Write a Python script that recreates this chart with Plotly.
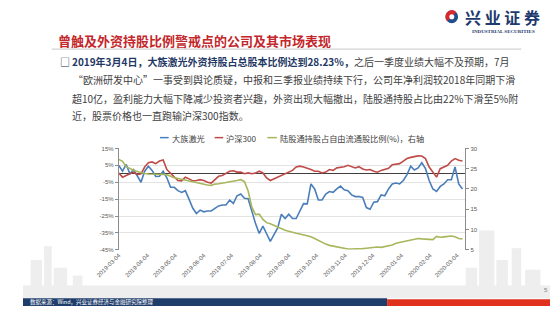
import math
import pandas as pd
import plotly.graph_objects as go

W, H = 550, 309

# ---- data -------------------------------------------------------------
start_date = "2019-03-04"
n_points = 94
step = "4D"

names = ["大族激光", "沪深300", "陆股通持股占自由流通股比例(%)，右轴"]

# 大族激光 cumulative return (%)
dazu = [5, 1.5, 5.5, 0, 2.4, -1.5, -5, 1.5, 4.4, 2.0,
        -1.6, -1.5, 1.5, -2.4, -8, -8, -10, -11, -10, -15,
        -20.3, -23.5, -21.5, -22.5, -22, -22, -20.5, -19, -18.5, -18.5,
        -15.6, -17.5, -13, -12, -14.5, -14.8, -22, -29.5, -35.3, -31,
        -35.5, -40, -36, -32, -24, -26.5, -24, -26.5, -26.5, -22,
        -17.7, -17.8, -6, -9, -15.5, -15.5, -12, -10.5, -11, -9,
        -7.3, -9.5, -10, -12.5, -13.5, -13.5, -14, -20, -21, -16.8,
        -16.5, -12.5, -13, -9, -6, -5.5, -6, -4, -0.5, 4.5,
        2.2, 3.5, 6.5, 3, -4, -9, -10.5, -7.5, -6, -3.5,
        -3.5, 4, -6, -9]

# 沪深300 cumulative return (%)
hs300 = [0.5, -2.0, -1.0, 0, 1.0, -0.5, 0, 4.0, 6.5, 7.0,
         6.0, 7.5, 8.2, 2.5, 0.5, -2.0, -4.0, -4.2, -2.0, -3.0,
         -4.3, -4.0, -3.5, -4.0, -5.0, -5.5, -3.5, -1.5, -1.0, 0.5,
         1.5, 1.8, 1.0, 1.0, 0, 0.5, 0, 0.5, 1.5, 0.5,
         -2.5, -4.0, -3.0, -2.0, -1.0, 0, 0.9, 2.0, 4.0, 4.5,
         4.0, 3.4, 2.5, 1.5, 1.5, 0.5, 1.0, 2.5, 2.0, 3.5,
         3.8, 4.2, 5.0, 4.0, 3.4, 4.2, 2.8, 2.2, 2.5, 1.5,
         0.9, 2.0, 2.4, 3.2, 5.3, 5.5, 6.0, 7.5, 9.0, 9.7,
         10.2, 10.6, 10.5, 9.0, 4.0, 1.0, -2.0, 3.0, 4.0, 5.0,
         7.5, 9.0, 8.0, 7.5]

# 陆股通 holding as % of free float (right axis)
hk_share = [27.3, 26.8, 25.5, 25.0, 24.6, 24.3, 24.0, 23.8, 23.7, 23.7,
            23.7, 23.7, 23.6, 23.5, 23.1, 22.8, 22.6, 22.4, 22.1, 22.0,
            21.8, 21.5, 21.3, 21.1, 21.0, 20.9, 21.2, 21.3, 21.4, 21.6,
            21.8, 21.9, 22.1, 22.3, 21.8, 19.5, 15.5, 13.7, 13.8, 12.5,
            11.7, 11.4, 11.0, 10.5, 10.1, 9.8, 9.6, 9.3, 9.1, 8.9,
            8.7, 8.5, 8.2, 7.8, 7.3, 6.8, 6.4, 6.1, 5.9, 5.7,
            5.5, 5.3, 5.2, 5.2, 5.2, 5.3, 5.3, 5.4, 5.5, 5.6,
            5.7, 5.6, 5.8, 6.0, 6.2, 6.6, 6.8, 7.0, 7.2, 7.3,
            7.6, 7.8, 7.7, 7.6, 7.5, 7.5, 8.3, 8.1, 8.2, 8.3,
            8.4, 8.2, 7.8, 7.7]

month_ticks = ["2019-03-04", "2019-04-04", "2019-05-04", "2019-06-04",
               "2019-07-04", "2019-08-04", "2019-09-04", "2019-10-04",
               "2019-11-04", "2019-12-04", "2020-01-04", "2020-02-04",
               "2020-03-04"]
left_ticks = [15, 5, -5, -15, -25, -35, -45]
right_ticks = [30, 25, 20, 15, 10, 5]

dates = pd.date_range(start_date, periods=n_points, freq=step)

title = "曾触及外资持股比例警戒点的公司及其市场表现"
line1_bold = "2019年3月4日，大族激光外资持股占总股本比例达到28.23%，"
line1_rest = "之后一季度业绩大幅不及预期，7月"
line2 = "“欧洲研发中心”一事受到舆论质疑，中报和三季报业绩持续下行，公司年净利润较2018年同期下滑"
line3 = "超10亿，盈利能力大幅下降减少投资者兴趣，外资出现大幅撤出，陆股通持股占比由22%下滑至5%附"
line4 = "近，股票价格也一直跑输沪深300指数。"
source = "数据来源：Wind，兴业证券经济与金融研究院整理"

colors = ["#4A7EBB", "#BE4B48", "#A8B65C"]

CJK = "Noto Sans CJK SC"
NUM = "Liberation Sans"


def px(x):
    return x / W


def py(y):
    return 1 - y / H


# ---- traces -----------------------------------------------------------
fig = go.Figure()
fig.add_trace(go.Scatter(x=dates, y=dazu, name=names[0], mode="lines",
                         line=dict(color=colors[0], width=1.6), yaxis="y"))
fig.add_trace(go.Scatter(x=dates, y=hs300, name=names[1], mode="lines",
                         line=dict(color=colors[1], width=1.6), yaxis="y"))
fig.add_trace(go.Scatter(x=dates, y=hk_share, name=names[2], mode="lines",
                         line=dict(color=colors[2], width=1.6), yaxis="y2"))

shapes = []
annotations = []

# ---- background skyline (light grey blocks) ----------------------------
sky = "#eeeeee"
blocks = [
    (0, 288, 550, 301), (8, 262, 20, 301), (22, 248, 30, 301), (32, 270, 46, 301),
    (52, 278, 62, 301), (476, 232, 492, 301), (494, 262, 506, 301),
    (510, 250, 520, 301), (524, 272, 540, 301), (462, 270, 474, 301),
]
for x0, y0, x1, y1 in blocks:
    shapes.append(dict(type="rect", xref="paper", yref="paper", layer="below",
                       x0=px(x0), x1=px(x1), y0=py(y1), y1=py(y0),
                       fillcolor=sky, line=dict(width=0)))

# ---- footer bars -----------------------------------------------------
shapes.append(dict(type="rect", xref="paper", yref="paper", x0=0, x1=px(380),
                   y0=0, y1=py(301), fillcolor="#1F3D6B", line=dict(width=0)))
shapes.append(dict(type="rect", xref="paper", yref="paper", x0=px(380), x1=1,
                   y0=0, y1=py(302), fillcolor="#E0301E", line=dict(width=0)))
annotations.append(dict(text=source, x=px(5), y=py(305.3), xref="paper", yref="paper",
                        xanchor="left", yanchor="middle", showarrow=False,
                        font=dict(family=CJK, size=5.5, color="#ffffff")))
annotations.append(dict(text="5", x=px(546), y=py(293), xref="paper", yref="paper",
                        xanchor="center", yanchor="middle", showarrow=False,
                        font=dict(family=NUM, size=6, color="#7f7f7f")))

# ---- title, rule and logo ----------------------------------------------
annotations.append(dict(text=f"<b>{title}</b>", x=px(34), y=py(38.5), xref="paper",
                        yref="paper", xanchor="left", yanchor="middle", showarrow=False,
                        font=dict(family=CJK, size=13, color="#C3272B")))
shapes.append(dict(type="line", xref="paper", yref="paper", x0=px(30), x1=px(520),
                   y0=py(47), y1=py(47), line=dict(color="#c8c8c8", width=1)))

# logo mark: blue disc with a red upper-left half and a white core
cx, cy, r = 447.5, 14, 6.6
shapes.append(dict(type="circle", xref="paper", yref="paper",
                   x0=px(cx - r), x1=px(cx + r), y0=py(cy + r), y1=py(cy - r),
                   fillcolor="#1F4E8C", line=dict(width=0)))
pts = []
for k in range(0, 37):
    a = math.radians(45 + 180 * k / 36)
    pts.append((cx + r * math.cos(a), cy - r * math.sin(a)))
path = "M " + " L ".join(f"{px(x):.5f},{py(y):.5f}" for x, y in pts) + " Z"
shapes.append(dict(type="path", xref="paper", yref="paper", path=path,
                   fillcolor="#D62A2F", line=dict(width=0)))
shapes.append(dict(type="circle", xref="paper", yref="paper",
                   x0=px(cx - 2.6), x1=px(cx + 2.6), y0=py(cy + 2.6), y1=py(cy - 2.6),
                   fillcolor="#ffffff", line=dict(width=0)))
annotations.append(dict(text="<b>兴 业 证 券</b>", x=px(500), y=py(14), xref="paper",
                        yref="paper", xanchor="center", yanchor="middle", showarrow=False,
                        font=dict(family=CJK, size=16, color="#1F3A6E")))
annotations.append(dict(text="<b>INDUSTRIAL SECURITIES</b>", x=px(501), y=py(29),
                        xref="paper", yref="paper", xanchor="center", yanchor="middle",
                        showarrow=False,
                        font=dict(family="Liberation Serif", size=5, color="#1F3A6E")))

# ---- body text ---------------------------------------------------------
body_font = dict(family=CJK, size=10, color="#404040")
annotations.append(dict(text="□", x=px(37), y=py(59.5), xref="paper", yref="paper",
                        xanchor="left", yanchor="middle", showarrow=False,
                        font=dict(family=CJK, size=10, color="#1F2A44")))
annotations.append(dict(
    text=f"<span style='color:#1F3864'><b>{line1_bold}</b></span>{line1_rest}",
    x=px(49), y=py(59.5), xref="paper", yref="paper", xanchor="left",
    yanchor="middle", showarrow=False, font=body_font))
for txt, xx, yy in [(line2, 50, 78.5), (line3, 49, 97), (line4, 49, 115)]:
    annotations.append(dict(text=txt, x=px(xx), y=py(yy), xref="paper", yref="paper",
                            xanchor="left", yanchor="middle", showarrow=False,
                            font=body_font))

# ---- custom legend -----------------------------------------------------
leg = [(143, 152, 153), (200, 209, 210), (255, 265, 266)]
for (lx0, lx1, tx), nm, c in zip(leg, names, colors):
    shapes.append(dict(type="line", xref="paper", yref="paper", x0=px(lx0), x1=px(lx1),
                       y0=py(137.3), y1=py(137.3), line=dict(color=c, width=1.5)))
    annotations.append(dict(text=nm, x=px(tx), y=py(137.3), xref="paper", yref="paper",
                            xanchor="left", yanchor="middle", showarrow=False,
                            font=dict(family=CJK, size=8.2, color="#404040")))

# ---- layout ------------------------------------------------------------
tick_font = dict(family=NUM, size=6, color="#595959")
fig.update_layout(
    width=W, height=H, autosize=False,
    margin=dict(l=0, r=0, t=0, b=0),
    paper_bgcolor="#ffffff", plot_bgcolor="rgba(0,0,0,0)",
    showlegend=False,
    shapes=shapes, annotations=annotations,
    xaxis=dict(type="date", domain=[px(100), px(461.5)],
               range=[start_date, "2020-03-13"],
               tickvals=month_ticks, ticktext=month_ticks, tickangle=-45,
               tickfont=tick_font, showgrid=False, showline=False, ticks="",
               zeroline=False, anchor="y"),
    yaxis=dict(domain=[py(251.7), py(148.3)], range=[-45, 15],
               tickvals=left_ticks, ticktext=[f"{v}%" for v in left_ticks],
               tickfont=tick_font, showgrid=True, gridcolor="#e3e3e3", gridwidth=0.8,
               zeroline=True, zerolinecolor="#3f3f3f", zerolinewidth=1,
               showline=True, linecolor="#8c8c8c", linewidth=1,
               ticks="outside", ticklen=3, tickcolor="#8c8c8c"),
    yaxis2=dict(overlaying="y", side="right", anchor="x", range=[5, 30],
                tickvals=right_ticks, tickfont=tick_font, showgrid=False,
                zeroline=False, showline=True, linecolor="#8c8c8c", linewidth=1,
                ticks="outside", ticklen=3, tickcolor="#8c8c8c"),
)

fig.write_html("out.html")
